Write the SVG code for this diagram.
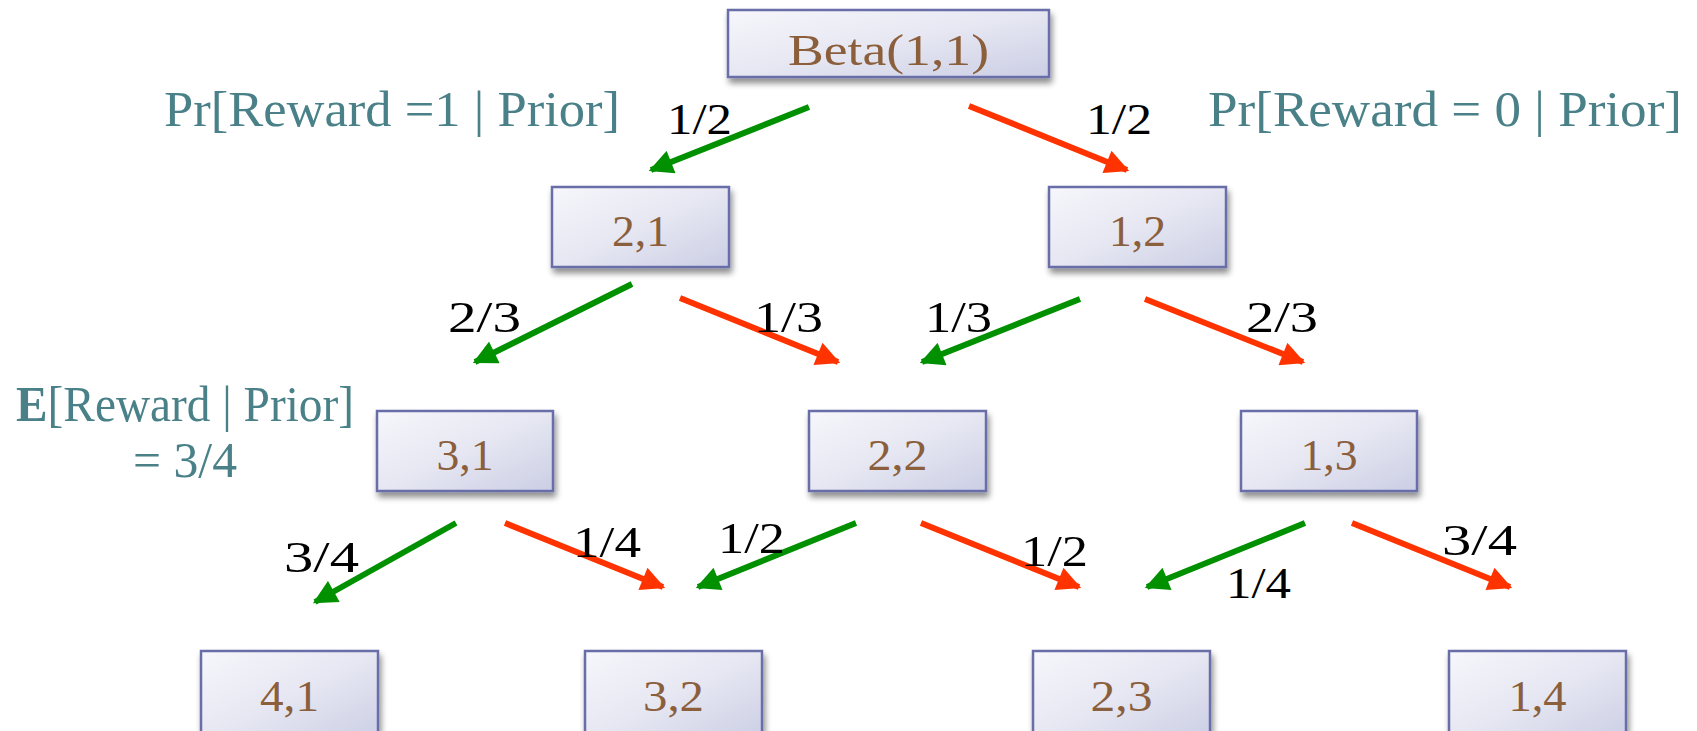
<svg xmlns="http://www.w3.org/2000/svg" width="1697" height="731" viewBox="0 0 1697 731">
<style>
  .box { fill: url(#boxfill); stroke: #6a6ea8; stroke-width: 2.5; filter: url(#shadow); }
  .nlabel { font-family: "Liberation Serif", serif; font-size: 44px; fill: #8b5e3c; text-anchor: middle; }
  .elabel { font-family: "Liberation Serif", serif; font-size: 44px; fill: #000; }
  .note { font-family: "Liberation Serif", serif; font-size: 50px; fill: #4a8188; }
  .g { stroke: #009000; stroke-width: 6; fill: none; marker-end: url(#ag); }
  .r { stroke: #ff3300; stroke-width: 6; fill: none; marker-end: url(#ar); }
</style>
<defs>
  <linearGradient id="boxfill" x1="0" y1="0" x2="1" y2="1">
    <stop offset="0" stop-color="#f6f6fb"/>
    <stop offset="0.5" stop-color="#e6e7f2"/>
    <stop offset="1" stop-color="#cbcee5"/>
  </linearGradient>
  <filter id="shadow" x="-10%" y="-20%" width="125%" height="150%">
    <feGaussianBlur in="SourceAlpha" stdDeviation="3"/>
    <feOffset dx="2" dy="5" result="b"/>
    <feComponentTransfer><feFuncA type="linear" slope="0.45"/></feComponentTransfer>
    <feMerge><feMergeNode/><feMergeNode in="SourceGraphic"/></feMerge>
  </filter>
  <marker id="ag" viewBox="0 0 10 10" refX="9" refY="5" markerUnits="userSpaceOnUse" markerWidth="25" markerHeight="24" orient="auto">
    <path d="M0,0 L10,5 L0,10 z" fill="#009000"/>
  </marker>
  <marker id="ar" viewBox="0 0 10 10" refX="9" refY="5" markerUnits="userSpaceOnUse" markerWidth="25" markerHeight="24" orient="auto">
    <path d="M0,0 L10,5 L0,10 z" fill="#ff3300"/>
  </marker>
</defs>
<rect width="1697" height="731" fill="#fff"/>

<g id="notes">
  <text class="note" x="164" y="126" textLength="456" lengthAdjust="spacingAndGlyphs">Pr[Reward =1 | Prior]</text>
  <text class="note" x="1208" y="126" textLength="474" lengthAdjust="spacingAndGlyphs">Pr[Reward = 0 | Prior]</text>
  <text class="note" x="16" y="421" textLength="338" lengthAdjust="spacingAndGlyphs"><tspan font-weight="bold">E</tspan>[Reward | Prior]</text>
  <text class="note" x="133" y="477" textLength="104" lengthAdjust="spacingAndGlyphs">= 3/4</text>
</g>

<g id="connectors">
  <line class="g" x1="809" y1="107" x2="651" y2="170"/>
  <line class="r" x1="969" y1="106" x2="1127" y2="170"/>
  <line class="g" x1="632" y1="284" x2="475" y2="362"/>
  <line class="r" x1="680" y1="298" x2="838" y2="362"/>
  <line class="g" x1="1080" y1="299" x2="922" y2="362"/>
  <line class="r" x1="1145" y1="299" x2="1303" y2="362"/>
  <line class="g" x1="456" y1="523" x2="315" y2="602"/>
  <line class="r" x1="505" y1="523" x2="663" y2="587"/>
  <line class="g" x1="856" y1="523" x2="698" y2="587"/>
  <line class="r" x1="921" y1="523" x2="1079" y2="587"/>
  <line class="g" x1="1305" y1="523" x2="1147" y2="587"/>
  <line class="r" x1="1352" y1="523" x2="1510" y2="587"/>
</g>

<g id="edge-labels">
  <text class="elabel" x="667" y="134" textLength="65" lengthAdjust="spacingAndGlyphs">1/2</text>
  <text class="elabel" x="1086" y="134" textLength="66" lengthAdjust="spacingAndGlyphs">1/2</text>
  <text class="elabel" x="448" y="332" textLength="73" lengthAdjust="spacingAndGlyphs">2/3</text>
  <text class="elabel" x="754" y="332" textLength="69" lengthAdjust="spacingAndGlyphs">1/3</text>
  <text class="elabel" x="925" y="332" textLength="67" lengthAdjust="spacingAndGlyphs">1/3</text>
  <text class="elabel" x="1246" y="332" textLength="72" lengthAdjust="spacingAndGlyphs">2/3</text>
  <text class="elabel" x="284" y="572" textLength="75" lengthAdjust="spacingAndGlyphs">3/4</text>
  <text class="elabel" x="573" y="557" textLength="68" lengthAdjust="spacingAndGlyphs">1/4</text>
  <text class="elabel" x="718" y="553" textLength="67" lengthAdjust="spacingAndGlyphs">1/2</text>
  <text class="elabel" x="1021" y="566" textLength="67" lengthAdjust="spacingAndGlyphs">1/2</text>
  <text class="elabel" x="1226" y="598" textLength="65" lengthAdjust="spacingAndGlyphs">1/4</text>
  <text class="elabel" x="1442" y="555" textLength="75" lengthAdjust="spacingAndGlyphs">3/4</text>
</g>

<g id="node-beta">
  <rect class="box" x="728" y="10" width="321" height="67"/>
  <text class="nlabel" x="888.5" y="65" font-size="56" textLength="201" lengthAdjust="spacingAndGlyphs">Beta(1,1)</text>
</g>
<g id="node-2-1">
  <rect class="box" x="552" y="187" width="177" height="80"/>
  <text class="nlabel" x="640.5" y="246" textLength="57" lengthAdjust="spacingAndGlyphs">2,1</text>
</g>
<g id="node-1-2">
  <rect class="box" x="1049" y="187" width="177" height="80"/>
  <text class="nlabel" x="1137.5" y="246" textLength="57" lengthAdjust="spacingAndGlyphs">1,2</text>
</g>
<g id="node-3-1">
  <rect class="box" x="377" y="411" width="176" height="80"/>
  <text class="nlabel" x="465" y="470" textLength="57" lengthAdjust="spacingAndGlyphs">3,1</text>
</g>
<g id="node-2-2">
  <rect class="box" x="809" y="411" width="177" height="80"/>
  <text class="nlabel" x="897.5" y="470" textLength="60" lengthAdjust="spacingAndGlyphs">2,2</text>
</g>
<g id="node-1-3">
  <rect class="box" x="1241" y="411" width="176" height="80"/>
  <text class="nlabel" x="1329" y="470" textLength="57" lengthAdjust="spacingAndGlyphs">1,3</text>
</g>
<g id="node-4-1">
  <rect class="box" x="201" y="651" width="177" height="90"/>
  <text class="nlabel" x="289.5" y="711" textLength="59" lengthAdjust="spacingAndGlyphs">4,1</text>
</g>
<g id="node-3-2">
  <rect class="box" x="585" y="651" width="177" height="90"/>
  <text class="nlabel" x="673.5" y="711" textLength="61" lengthAdjust="spacingAndGlyphs">3,2</text>
</g>
<g id="node-2-3">
  <rect class="box" x="1033" y="651" width="177" height="90"/>
  <text class="nlabel" x="1121.5" y="711" textLength="62" lengthAdjust="spacingAndGlyphs">2,3</text>
</g>
<g id="node-1-4">
  <rect class="box" x="1449" y="651" width="177" height="90"/>
  <text class="nlabel" x="1537.5" y="711" textLength="58" lengthAdjust="spacingAndGlyphs">1,4</text>
</g>
</svg>
